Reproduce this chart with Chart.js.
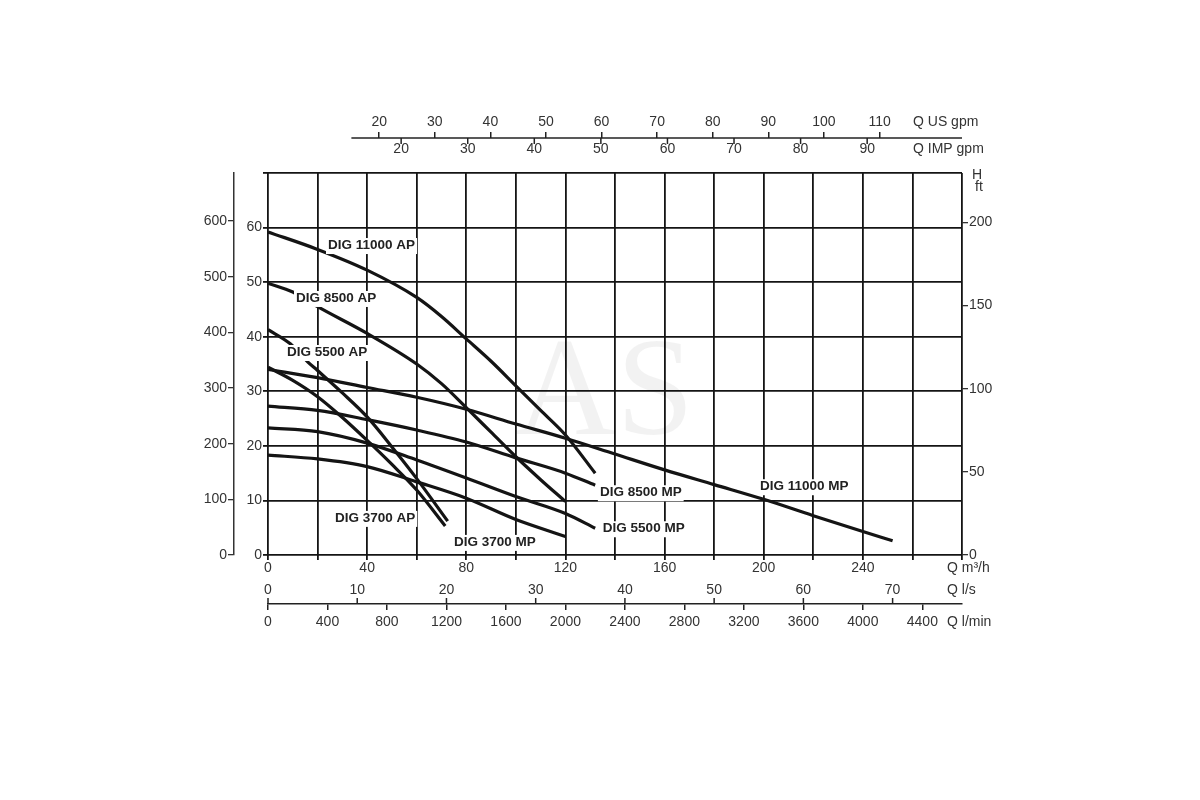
<!DOCTYPE html>
<html>
<head>
<meta charset="utf-8">
<script src="https://cdn.jsdelivr.net/npm/chart.js@4.4.1/dist/chart.umd.min.js"></script>
<style>
  html, body { margin: 0; padding: 0; background: #fff; }
</style>
</head>
<body>
<canvas id="pumpChart" width="1200" height="800"></canvas>
<script>
// curve names, flow Q in m3/h, head H in m
const seriesNames = ['DIG 11000 AP', 'DIG 8500 AP', 'DIG 5500 AP', 'DIG 3700 AP',
                     'DIG 11000 MP', 'DIG 8500 MP', 'DIG 5500 MP', 'DIG 3700 MP'];

const q11000AP = [0, 20, 40, 60, 70, 80, 90, 100, 110, 120, 132];
const h11000AP = [59.2, 56, 52.2, 47.2, 43.7, 39.6, 35.5, 31, 26.5, 22, 15];
const q8500AP = [0, 10, 20, 40, 60, 70, 80, 90, 100, 110, 120];
const h8500AP = [49.8, 48.2, 45.5, 40.6, 35, 31.4, 27, 22.5, 18, 13.8, 9.8];
const q5500AP = [0, 9, 16, 20, 30, 40, 50, 60, 72.5];
const h5500AP = [41.3, 38.7, 35.4, 33.8, 29.7, 25.3, 19.8, 14, 6.2];
const q3700AP = [0, 10, 20, 30, 40, 50, 60, 71.5];
const h3700AP = [34.4, 32, 29, 25.2, 21, 16.6, 11.9, 5.3];

const q11000MP = [0, 20, 40, 60, 80, 100, 120, 140, 160, 180, 200, 220, 240, 252];
const h11000MP = [34, 32.5, 30.7, 28.9, 26.7, 24.0, 21.4, 18.5, 15.6, 12.9, 10.2, 7.2, 4.3, 2.6];
const q8500MP = [0, 20, 40, 60, 80, 100, 120, 132];
const h8500MP = [27.3, 26.5, 24.8, 22.9, 20.7, 17.8, 15, 12.8];
const q5500MP = [0, 20, 40, 60, 80, 100, 120, 132];
const h5500MP = [23.3, 22.6, 20.5, 17.4, 14.1, 10.7, 7.6, 4.9];
const q3700MP = [0, 20, 40, 60, 80, 100, 120];
const h3700MP = [18.3, 17.6, 16.2, 13.4, 10.4, 6.5, 3.4];

// tick labels
const m3hTicks = [0, 40, 80, 120, 160, 200, 240];
const lsTicks = [0, 10, 20, 30, 40, 50, 60, 70];
const lminTicks = [0, 400, 800, 1200, 1600, 2000, 2400, 2800, 3200, 3600, 4000, 4400];
const usGpmTicks = [20, 30, 40, 50, 60, 70, 80, 90, 100, 110];
const impGpmTicks = [20, 30, 40, 50, 60, 70, 80, 90];
const headMTicks = [0, 10, 20, 30, 40, 50, 60];
const kpaTicks = [0, 100, 200, 300, 400, 500, 600];
const ftTicks = [0, 50, 100, 150, 200];

// axis ranges and unit conversions
const qMax = 280;
const hMax = 70;
const lsPerM3h = 1 / 3.6;
const lminPerM3h = 1000 / 60;
const usPerM3h = 1 / 2.243;
const impPerM3h = 1 / 2.686;
const kpaPerM = 9.80665;
const ftPerM = 3.28084;

const curves = [
    [q11000AP, h11000AP], [q8500AP, h8500AP], [q5500AP, h5500AP], [q3700AP, h3700AP],
    [q11000MP, h11000MP], [q8500MP, h8500MP], [q5500MP, h5500MP], [q3700MP, h3700MP]
];

// where each curve name sits (left edge, middle), in Q / H units
const labelSpots = [[24.2, 56.8], [11.3, 47.1], [7.7, 37.2], [27, 6.8],
                    [198.5, 12.6], [133.9, 11.5], [135.1, 4.9], [75, 2.4]];

const ink = '#141414';
const textInk = '#333';
const tickFont = { family: '"Liberation Sans", Arial, sans-serif', size: 14 };

Chart.defaults.font.family = tickFont.family;
Chart.defaults.color = textInk;

const datasets = curves.map((c, i) => ({
    label: seriesNames[i],
    data: c[0].map((q, j) => ({ x: q, y: c[1][j] })),
    showLine: true,
    borderColor: ink,
    borderWidth: 3.2,
    pointRadius: 0,
    cubicInterpolationMode: 'monotone',
    fill: false
}));

function line(ctx, x1, y1, x2, y2) {
    ctx.beginPath();
    ctx.moveTo(x1, y1);
    ctx.lineTo(x2, y2);
    ctx.stroke();
}

// use the listed values as the ticks of a scale
const useTicks = list => s => { s.ticks = list.map(v => ({ value: v })); };
const plain = v => String(v);

const decor = {
    id: 'decor',
    beforeDatasetsDraw(chart) {
        const { ctx, chartArea: a } = chart;
        ctx.save();
        ctx.fillStyle = 'rgba(0,0,0,0.05)';
        ctx.font = '140px "Liberation Serif", serif';
        ctx.textAlign = 'center';
        ctx.textBaseline = 'middle';
        ctx.fillText('AS', a.left + (a.right - a.left) * 0.485, a.top + (a.bottom - a.top) * 0.586);
        ctx.restore();
    },
    afterDatasetsDraw(chart) {
        const { ctx, scales } = chart;
        ctx.save();
        ctx.font = 'bold 13.5px "Liberation Sans", Arial, sans-serif';
        ctx.textAlign = 'left';
        ctx.textBaseline = 'middle';
        seriesNames.forEach((name, i) => {
            const x = scales.x.getPixelForValue(labelSpots[i][0]);
            const y = scales.y.getPixelForValue(labelSpots[i][1]);
            const w = ctx.measureText(name).width;
            ctx.fillStyle = '#fff';
            ctx.fillRect(x - 2, y - 7, w + 4, 16);
            ctx.fillStyle = '#222';
            ctx.fillText(name, x, y + 0.5);
        });
        ctx.restore();
    },
    afterDraw(chart) {
        const { ctx, chartArea: a, scales } = chart;
        const us = scales.xus, imp = scales.ximp, ls = scales.xls, lmin = scales.xlmin;
        ctx.save();
        ctx.strokeStyle = '#222';
        ctx.lineWidth = 1.5;
        const yTop = us.bottom;
        line(ctx, us.getPixelForValue(15), yTop, a.right, yTop);
        impGpmTicks.forEach(v => {
            const x = imp.getPixelForValue(v);
            line(ctx, x, yTop, x, yTop + 6);
        });
        const yBot = lmin.top;
        lsTicks.forEach(v => {
            const x = ls.getPixelForValue(v);
            line(ctx, x, yBot, x, yBot - 6);
        });

        ctx.fillStyle = textInk;
        ctx.font = '14px "Liberation Sans", Arial, sans-serif';
        ctx.textAlign = 'left';
        ctx.textBaseline = 'middle';
        ctx.fillText('Q US gpm', a.right - 49, yTop - 15.5);
        ctx.fillText('Q IMP gpm', a.right - 49, yTop + 11.5);
        ctx.fillText('Q m³/h', a.right - 15, scales.x.top + 13);
        ctx.fillText('Q l/s', a.right - 15, ls.top + 12);
        ctx.fillText('Q l/min', a.right - 15, lmin.top + 18);
        ctx.fillText('H', a.right + 10, a.top + 2);
        ctx.fillText('ft', a.right + 13, a.top + 14.5);
        ctx.restore();
    }
};

const hide = list => v => list.includes(v) ? String(v) : '';

new Chart(document.getElementById('pumpChart'), {
    type: 'scatter',
    data: { datasets },
    options: {
        responsive: false,
        animation: false,
        layout: { padding: { top: 108, bottom: 162, left: 184, right: 198 } },
        plugins: { legend: { display: false }, tooltip: { enabled: false } },
        scales: {
            x: {
                type: 'linear', position: 'bottom', weight: 0, min: 0, max: qMax,
                ticks: { stepSize: 20, callback: hide(m3hTicks), padding: 0, font: tickFont,
                         autoSkip: false, maxRotation: 0, includeBounds: false },
                grid: { color: ink, lineWidth: 1.8, tickLength: 5 },
                border: { display: false },
                afterFit: s => { s.height = 23; }
            },
            xls: {
                type: 'linear', position: 'bottom', weight: 1, min: 0, max: qMax * lsPerM3h,
                afterBuildTicks: useTicks(lsTicks),
                ticks: { callback: plain, padding: 3.6, font: tickFont, autoSkip: false, maxRotation: 0 },
                grid: { display: false, drawTicks: false },
                border: { display: false },
                afterFit: s => { s.height = 26; }
            },
            xlmin: {
                type: 'linear', position: 'bottom', weight: 2, min: 0, max: qMax * lminPerM3h,
                afterBuildTicks: useTicks(lminTicks),
                ticks: { callback: plain, padding: 4, font: tickFont, autoSkip: false, maxRotation: 0 },
                grid: { drawOnChartArea: false, color: '#222', lineWidth: 1.5, tickLength: 6 },
                border: { display: true, color: '#222', width: 1.5 },
                afterFit: s => { s.height = 34; }
            },
            ximp: {
                type: 'linear', position: 'top', weight: 1, min: 0, max: qMax * impPerM3h,
                afterBuildTicks: useTicks(impGpmTicks),
                ticks: { callback: plain, padding: 15.6, font: tickFont, autoSkip: false, maxRotation: 0 },
                grid: { display: false, drawTicks: false },
                border: { display: false },
                afterFit: s => { s.height = 35; }
            },
            xus: {
                type: 'linear', position: 'top', weight: 2, min: 0, max: qMax * usPerM3h,
                afterBuildTicks: useTicks(usGpmTicks),
                ticks: { callback: plain, padding: 1.1, font: tickFont, autoSkip: false, maxRotation: 0 },
                grid: { drawOnChartArea: false, tickLength: 6, lineWidth: 1.5, color: '#222' },
                border: { display: false },
                afterFit: s => { s.height = 30; }
            },
            y: {
                type: 'linear', position: 'left', weight: 0, min: 0, max: hMax,
                ticks: { stepSize: 10, callback: hide(headMTicks), padding: 1, font: tickFont, includeBounds: false },
                grid: { color: ink, lineWidth: 1.8, tickLength: 5 },
                border: { display: false },
                afterFit: s => { s.width = 34; }
            },
            ykpa: {
                type: 'linear', position: 'left', weight: 1, min: 0, max: hMax * kpaPerM,
                afterBuildTicks: useTicks(kpaTicks),
                ticks: { callback: plain, padding: 1, font: tickFont },
                grid: { drawOnChartArea: false, color: '#333', lineWidth: 1.3, tickLength: 6 },
                border: { display: true, color: '#333', width: 1.5 },
                afterFit: s => { s.width = 50; }
            },
            yft: {
                type: 'linear', position: 'right', min: 0, max: hMax * ftPerM,
                afterBuildTicks: useTicks(ftTicks),
                ticks: { callback: plain, padding: 1, font: tickFont },
                grid: { drawOnChartArea: false, color: '#333', lineWidth: 1.3, tickLength: 6 },
                border: { display: false },
                afterFit: s => { s.width = 40; }
            }
        }
    },
    plugins: [decor]
});
</script>
</body>
</html>
